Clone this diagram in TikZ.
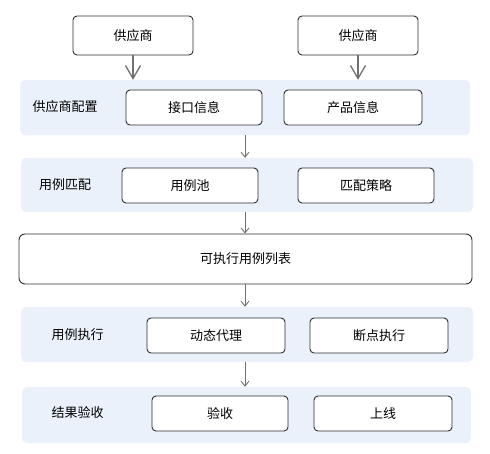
\documentclass[tikz,border=0pt]{standalone}
\usepackage{fontspec}
\setmainfont{Noto Sans CJK SC}
\usetikzlibrary{arrows.meta}
\definecolor{bandblue}{HTML}{EAF1FB}
\definecolor{linegray}{HTML}{707070}
\definecolor{boxline}{HTML}{2E2E2E}
\begin{document}
\begin{tikzpicture}[x=1pt,y=-1pt,
  font=\fontsize{13pt}{15pt}\selectfont,
  band/.style={fill=bandblue,rounded corners=5pt,inner sep=0pt},
  box/.style={draw=boxline,line width=0.9pt,fill=white,rounded corners=4pt,inner sep=0pt},
  flow/.style={draw=linegray,line width=0.9pt,-{Straight Barb[length=5pt,width=8pt]}},
  bigflow/.style={draw=linegray,line width=1.3pt,-{Straight Barb[length=13pt,width=15pt]}}]
\useasboundingbox (0,0) rectangle (490,453);
% suppliers
\node[box,minimum width=120pt,minimum height=39pt] (sup1) at (133,35.5) {供应商};
\node[box,minimum width=120pt,minimum height=39pt] (sup2) at (358,35.5) {供应商};
% bands
\node[band,minimum width=450pt,minimum height=55pt] (cfg) at (245,107.5) {};
\node[band,minimum width=452pt,minimum height=54pt] (match) at (247,185) {};
\node[box,minimum width=453pt,minimum height=50pt,rounded corners=6pt] (list) at (245.5,259) {可执行用例列表};
\node[band,minimum width=452pt,minimum height=55pt] (exec) at (247,334.5) {};
\node[band,minimum width=449pt,minimum height=56pt] (check) at (246.5,415) {};
% band labels
\node (cfglbl) at (65,107) {供应商配置};
\node (matchlbl) at (65,185) {用例匹配};
\node (execlbl) at (77.5,335) {用例执行};
\node (checklbl) at (77.5,413) {结果验收};
% inner boxes
\node[box,minimum width=136pt,minimum height=35pt] (api) at (194,107.5) {接口信息};
\node[box,minimum width=138pt,minimum height=35pt] (prod) at (353,107.5) {产品信息};
\node[box,minimum width=136pt,minimum height=35pt] (pool) at (190,185.5) {用例池};
\node[box,minimum width=136pt,minimum height=35pt] (strat) at (366,185.5) {匹配策略};
\node[box,minimum width=138pt,minimum height=35pt] (proxy) at (216,335.5) {动态代理};
\node[box,minimum width=138pt,minimum height=35pt] (brk) at (379,335.5) {断点执行};
\node[box,minimum width=136pt,minimum height=35pt] (accept) at (220,413.5) {验收};
\node[box,minimum width=138pt,minimum height=35pt] (online) at (383,413.5) {上线};
% arrows
\draw[bigflow] (sup1.south) -- (sup1.south |- cfg.north);
\draw[bigflow] (sup2.south) -- (sup2.south |- cfg.north);
\draw[flow] (cfg.south) -- (cfg.south |- match.north);
\draw[flow] (cfg.south |- match.south) -- (cfg.south |- list.north);
\draw[flow] (cfg.south |- list.south) -- (cfg.south |- exec.north);
\draw[flow] (cfg.south |- exec.south) -- (cfg.south |- check.north);
\end{tikzpicture}
\end{document}
